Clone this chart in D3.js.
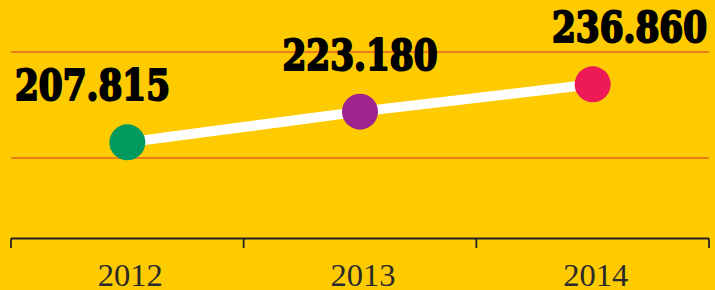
<!DOCTYPE html>
<html>
<head>
<meta charset="utf-8">
<script src="https://cdn.jsdelivr.net/npm/d3@7"></script>
<style>
  html, body { margin: 0; padding: 0; background: #fecb00; }
  svg { display: block; }
</style>
</head>
<body>
<div id="chart"></div>
<script>
// data
var years = ['2012', '2013', '2014'];
var values = [207815, 223180, 236860];
var valueLabels = ['207.815', '223.180', '236.860'];
var dotColors = ['#009a5e', '#a0248d', '#ee1a57'];
var gridValues = [200000, 253000];

var width = 715, height = 290;
var left = 11, right = 709, axisY = 238.5;

var svg = d3.select('#chart').append('svg')
  .attr('width', width)
  .attr('height', height);

svg.append('rect')
  .attr('width', width)
  .attr('height', height)
  .attr('fill', '#fecb00');

var x = d3.scaleBand()
  .domain(years)
  .range([left, right])
  .padding(0);

var y = d3.scaleLinear()
  .domain([160000, 280000])
  .range([238, -2]);

// orange gridlines
svg.append('g')
  .selectAll('line')
  .data(gridValues)
  .enter().append('line')
  .attr('x1', left)
  .attr('x2', right)
  .attr('y1', function(d){ return Math.round(y(d)); })
  .attr('y2', function(d){ return Math.round(y(d)); })
  .attr('stroke', '#f27c1c')
  .attr('stroke-width', 2);

// axis
var axis = svg.append('g')
  .attr('transform', 'translate(0,' + axisY + ')')
  .call(d3.axisBottom(x).tickSize(0).tickPadding(0));

axis.select('.domain')
  .attr('stroke', '#222')
  .attr('stroke-width', 1.8)
  .attr('d', 'M' + left + ',0H' + right);

axis.selectAll('.tick text')
  .attr('y', 47.5)
  .attr('dy', 0)
  .attr('dx', 3)
  .attr('fill', '#2a2a2a')
  .style('font-family', '"Liberation Serif", "DejaVu Serif", serif')
  .style('font-size', '32.5px');

// boundary ticks
var bounds = years.map(function(d){ return x(d); }).concat([right]);
axis.selectAll('.bound')
  .data(bounds)
  .enter().append('line')
  .attr('class', 'bound')
  .attr('x1', function(d){ return d; })
  .attr('x2', function(d){ return d; })
  .attr('y1', 0)
  .attr('y2', 9.5)
  .attr('stroke', '#222')
  .attr('stroke-width', 1.8);

// line
var line = d3.line()
  .x(function(d, i){ return x(years[i]) + x.bandwidth() / 2; })
  .y(function(d){ return y(d); });

svg.append('path')
  .datum(values)
  .attr('d', line)
  .attr('fill', 'none')
  .attr('stroke', '#fff')
  .attr('stroke-width', 10);

// dots
svg.append('g')
  .selectAll('circle')
  .data(values)
  .enter().append('circle')
  .attr('cx', function(d, i){ return x(years[i]) + x.bandwidth() / 2; })
  .attr('cy', function(d){ return y(d); })
  .attr('r', 18)
  .attr('fill', function(d, i){ return dotColors[i]; });

// value labels
var anchors = ['start', 'middle', 'end'];
svg.append('g')
  .selectAll('text')
  .data(values)
  .enter().append('text')
  .attr('x', function(d, i){
    if (i === 0) return 15;
    if (i === values.length - 1) return 707;
    return x(years[i]) + x.bandwidth() / 2;
  })
  .attr('y', function(d){ return y(d) - 42; })
  .attr('text-anchor', function(d, i){ return anchors[i]; })
  .attr('textLength', 155)
  .attr('lengthAdjust', 'spacingAndGlyphs')
  .attr('fill', '#000')
  .attr('stroke', '#000')
  .attr('stroke-width', 2)
  .attr('stroke-linejoin', 'round')
  .style('font-family', '"DejaVu Serif Condensed", "DejaVu Serif", serif')
  .style('font-weight', 'bold')
  .style('font-size', '42px')
  .text(function(d, i){ return valueLabels[i]; });
</script>
</body>
</html>
